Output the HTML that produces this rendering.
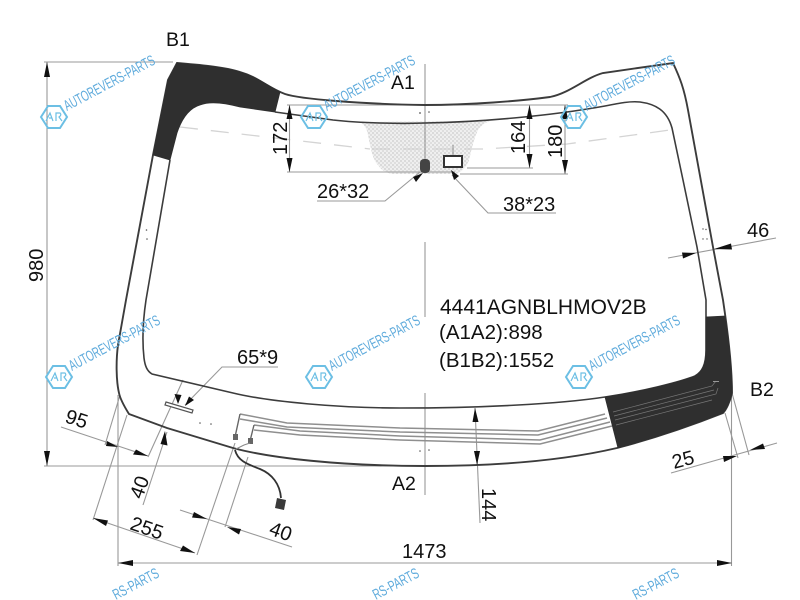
<!DOCTYPE html>
<html><head><meta charset="utf-8"><style>
html,body{margin:0;padding:0;background:#fff;width:800px;height:600px;overflow:hidden}
svg{display:block;overflow:hidden;filter:blur(.35px)}
text{font-family:"Liberation Sans",sans-serif;fill:#111}
.wm{font-size:15px;fill:#5fabdc}
.hex{fill:none;stroke:#6cbfe4;stroke-width:2}
.hex2{fill:none;stroke:#6cbfe4;stroke-width:1.2}
.d{stroke:#999;stroke-width:1.1;fill:none}
</style></head><body>
<svg width="800" height="600" viewBox="0 0 800 600" xmlns="http://www.w3.org/2000/svg">
<defs><pattern id="f" width="4" height="4" patternUnits="userSpaceOnUse"><circle cx="1" cy="1" r=".9" fill="none" stroke="#c8c8c8" stroke-width=".5"/><circle cx="3" cy="3" r=".9" fill="none" stroke="#d0d0d0" stroke-width=".5"/></pattern></defs>

<path d="M360 122C366 126 367 130 368 135C371 150 373 160 378 165C382 171 388 174 394 174L456 174C462 172 467 166 469 160C472 148 474 138 478 130C481 126 484 123 490 121Z" fill="#f0f0f0"/>
<path d="M360 122C366 126 367 130 368 135C371 150 373 160 378 165C382 171 388 174 394 174L456 174C462 172 467 166 469 160C472 148 474 138 478 130C481 126 484 123 490 121Z" fill="url(#f)"/>

<path d="M180 127L370 149" stroke="#d4d4d4" stroke-width="1.300" stroke-dasharray="18 13" fill="none"/>
<path d="M372 149L484 149L567 144L670 130" stroke="#d4d4d4" stroke-width="1.300" stroke-dasharray="18 13" fill="none"/>

<!-- dimension lines -->
<path class="d" d="M44 62H173M47 62V466M44 466H392"/>
<path class="d" d="M118 395V566M731.500 393V566M118 563H732"/>
<path class="d" d="M425 64V165M425 242V317M425 393V495"/>
<path class="d" d="M287 105H568M287 172H455M467 168H533M460 174H568"/>
<path class="d" d="M289.500 105V172M529.500 105V168M565 105V174"/>
<path class="d" d="M317 201H385L420 172M556 213H488L452 175M278 367H222L185 405M453 145V156"/>
<path class="d" d="M668 258L776 238M671 473L777 443M725 413L738 458M732 393L749 455"/>
<path class="d" d="M475 408L480 523"/>
<path class="d" d="M61 427L148 456M120 395L105 445M183 380L148 457M143 505L167 432M93 518L195 553M93 520L127 415M197 555L235 443M180 510L292 547M225 527L248 457"/>

<!-- glass -->
<path d="M177 63C200 65 225 67 240 72C258 77 268 88 285 94C300 99 360 104 425 105C470 105 520 101 550 97C570 93 585 78 603 73L673 63C680 78 684 88 688 110L713 247L723 300C729 340 732 370 732 393C730 402 726 410 723 413C680 430 640 442 617 448C570 459 510 466 425 466C340 466 270 458 233 448L167 428L129 414C124 406 120 398 119 393C116 380 116 360 118 345L126 300L153 155L168 80Z" fill="none" stroke="#3c3c3c" stroke-width="1.900"/>
<path d="M275 112L333 120C360 123 400 124 425 123C480 122 550 116 605 106C620 103 630 101 640 102C655 104 667 110 672 128L683 180L697 247L706 300L706 350C706 365 702 372 695 376C680 382 640 392 605 397C560 404 480 408 400 408C340 408 270 402 233 393L152 374C147 371 145 366 144 358C142 340 143 320 146 300L170 160" fill="none" stroke="#3c3c3c" stroke-width="1.600"/>

<!-- dark bands -->
<path d="M177 63C200 65 225 67 240 72C258 77 268 86 280 92L275 112L240 107C225 103 210 101 200 105C190 108 182 118 177 133L170 160L153 155L168 80Z" fill="#2f2f2f" stroke="#2f2f2f" stroke-width=".8"/>
<path d="M605 397C640 392 680 382 695 376C702 372 706 365 706 350L706 317L725 316C729 340 732 370 732 393C730 402 726 410 723 413C680 430 640 442 618 448Z" fill="#2f2f2f" stroke="#2f2f2f" stroke-width=".8"/>
<path d="M613 412L712 386L716 381M614 416L714 390M615 420L716 394L718 388M616 425L712 400" stroke="#777" stroke-width=".7" fill="none"/>
<path d="M713 381.500H719" stroke="#999" stroke-width="1"/>

<!-- heating wires -->
<g fill="none" stroke="#8f8f8f" stroke-width="1.500">
<path d="M240 414L287 423L400 428L538 431L605 414"/>
<path d="M240 419L287 427L400 432L538 435L607 418"/>
<path d="M254 425L300 431L400 436L540 440L610 422"/>
<path d="M254 430L300 435L400 440L540 444L612 426"/>
</g>
<path d="M240 414L235 437M254 425L250 441" stroke="#666" stroke-width="1.400" fill="none"/>
<rect x="233" y="434" width="5" height="6" fill="#666"/>
<rect x="248" y="438" width="5" height="6" fill="#666"/>
<path d="M250 443L244 445L236 449" stroke="#888" stroke-width="1" fill="none"/>
<path d="M235 450C238 462 250 465 260 469C272 474 280 484 281 498" stroke="#333" stroke-width="1.800" fill="none"/>
<path d="M277 498L286 500L284 510L275 508Z" fill="#3a3a3a"/>

<!-- cutouts -->
<rect x="420" y="159" width="10" height="14" rx="4" fill="#444"/>
<rect x="444" y="156" width="18" height="11" fill="#fff" stroke="#333" stroke-width="2"/>
<path d="M166 402L193 410L192 413L165 405Z" fill="#fff" stroke="#555" stroke-width="1.200"/>

<!-- dots -->
<g fill="#555">
<circle cx="146.500" cy="230" r=".8"/><circle cx="147" cy="239" r=".8"/>
<circle cx="420" cy="113" r=".9"/><circle cx="429" cy="112" r=".8"/>
<circle cx="703" cy="229" r=".7"/><circle cx="706" cy="229.500" r=".7"/><circle cx="703" cy="239" r=".7"/><circle cx="707" cy="239" r=".7"/>
<circle cx="200" cy="423" r=".8"/><circle cx="211" cy="424" r=".8"/>
<circle cx="420" cy="451" r=".8"/><circle cx="429" cy="450" r=".8"/>
</g>

<!-- arrowheads -->
<g fill="#111">
<path d="M47 62L44 77H50Z"/><path d="M47 466L44 451H50Z"/>
<path d="M118 563L133 560V566Z"/><path d="M732 563L717 560V566Z"/>
<path d="M289.500 105L286.500 119H292.500Z"/><path d="M289.500 172L286.500 158H292.500Z"/>
<path d="M529.500 105L526.500 119H532.500Z"/><path d="M529.500 168L526.500 154H532.500Z"/>
<path d="M565 105L562 119H568Z"/><path d="M565 174L562 160H568Z"/>
<path d="M423 173L413 177L416 182Z"/><path d="M451 170L454 180L459 176Z"/>
<path d="M696 253L682 252.500L683 258.500Z"/><path d="M714 249L731 243.500L732 249.500Z"/>
<path d="M737 456L723 456L724 462Z"/><path d="M750 450L763 443.500L765 449Z"/>
<path d="M475 408L472.500 422H478.500Z"/><path d="M477 465L474 451H480Z"/>
<path d="M118 447L107 441L106 446Z"/><path d="M148 456L136 449.500L133 454.500Z"/>
<path d="M178 404L174.500 394L181.500 395Z"/><path d="M165 431L160.500 444L167.500 445.500Z"/>
<path d="M185 406L189 396.500L194 400Z"/>
<path d="M93 518L108 520.500L106 526Z"/><path d="M195 553L183 545.500L180 551Z"/>
<path d="M207 519L194 512L192 517.500Z"/><path d="M227 527L241 529L239 534.500Z"/>
</g>

<!-- labels -->
<g font-size="20">
<text x="166" y="46" font-size="19.500">B1</text>
<text x="391" y="89" font-size="19.500">A1</text>
<text x="392" y="490" font-size="19.500">A2</text>
<text x="750" y="396" font-size="19.500">B2</text>
<text x="317" y="198">26*32</text>
<text x="503" y="211">38*23</text>
<text x="237" y="364">65*9</text>
<text x="402" y="558">1473</text>
<text x="747" y="237">46</text>
<text x="440" y="314" font-size="21">4441AGNBLHMOV2B</text>
<text x="439" y="339" font-size="20.500">(A1A2):898</text>
<text x="439" y="367" font-size="20.500">(B1B2):1552</text>
<text transform="translate(43 282) rotate(-90)">980</text>
<text transform="translate(287 155) rotate(-90)">172</text>
<text transform="translate(525 154) rotate(-90)">164</text>
<text transform="translate(562 158) rotate(-90)">180</text>
<text transform="translate(482 488) rotate(90)">144</text>
<text transform="translate(674 469) rotate(-15)">25</text>
<text transform="translate(64 422) rotate(18)">95</text>
<text transform="translate(142 500) rotate(-70)">40</text>
<text transform="translate(129 529) rotate(19)">255</text>
<text transform="translate(268 534) rotate(20)">40</text>
</g>

<!-- watermarks -->
<g>
<g transform="translate(54 117)"><path class="hex" d="M-13 0L-6 -11H6L13 0L6 11H-6Z"/><path class="hex2" d="M-8 4L-4 -4L-1 4M-5 1H-2M2 4V-4H6Q8 -2 5 0L8 4"/></g>
<text class="wm" transform="translate(67 111) rotate(-28)" textLength="101" lengthAdjust="spacingAndGlyphs">AUTOREVERS-PARTS</text>
<g transform="translate(314 117)"><path class="hex" d="M-13 0L-6 -11H6L13 0L6 11H-6Z"/><path class="hex2" d="M-8 4L-4 -4L-1 4M-5 1H-2M2 4V-4H6Q8 -2 5 0L8 4"/></g>
<text class="wm" transform="translate(327 111) rotate(-28)" textLength="101" lengthAdjust="spacingAndGlyphs">AUTOREVERS-PARTS</text>
<g transform="translate(574 117)"><path class="hex" d="M-13 0L-6 -11H6L13 0L6 11H-6Z"/><path class="hex2" d="M-8 4L-4 -4L-1 4M-5 1H-2M2 4V-4H6Q8 -2 5 0L8 4"/></g>
<text class="wm" transform="translate(587 111) rotate(-28)" textLength="101" lengthAdjust="spacingAndGlyphs">AUTOREVERS-PARTS</text>
<g transform="translate(59 377)"><path class="hex" d="M-13 0L-6 -11H6L13 0L6 11H-6Z"/><path class="hex2" d="M-8 4L-4 -4L-1 4M-5 1H-2M2 4V-4H6Q8 -2 5 0L8 4"/></g>
<text class="wm" transform="translate(72 371) rotate(-28)" textLength="101" lengthAdjust="spacingAndGlyphs">AUTOREVERS-PARTS</text>
<g transform="translate(319 377)"><path class="hex" d="M-13 0L-6 -11H6L13 0L6 11H-6Z"/><path class="hex2" d="M-8 4L-4 -4L-1 4M-5 1H-2M2 4V-4H6Q8 -2 5 0L8 4"/></g>
<text class="wm" transform="translate(332 371) rotate(-28)" textLength="101" lengthAdjust="spacingAndGlyphs">AUTOREVERS-PARTS</text>
<g transform="translate(579 377)"><path class="hex" d="M-13 0L-6 -11H6L13 0L6 11H-6Z"/><path class="hex2" d="M-8 4L-4 -4L-1 4M-5 1H-2M2 4V-4H6Q8 -2 5 0L8 4"/></g>
<text class="wm" transform="translate(592 371) rotate(-28)" textLength="101" lengthAdjust="spacingAndGlyphs">AUTOREVERS-PARTS</text>
<text class="wm" transform="translate(116 600) rotate(-28)" textLength="50" lengthAdjust="spacingAndGlyphs">RS-PARTS</text>
<text class="wm" transform="translate(376 600) rotate(-28)" textLength="50" lengthAdjust="spacingAndGlyphs">RS-PARTS</text>
<text class="wm" transform="translate(636 600) rotate(-28)" textLength="50" lengthAdjust="spacingAndGlyphs">RS-PARTS</text>
</g>
</svg>
</body></html>
